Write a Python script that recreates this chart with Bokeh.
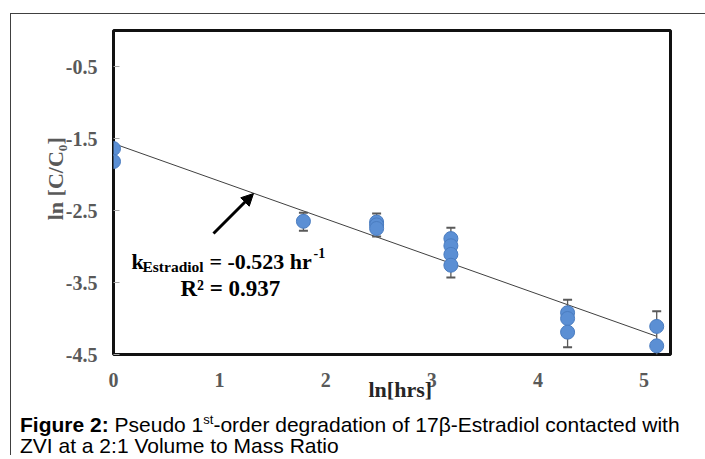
from bokeh.plotting import figure
from bokeh.models import Label, Arrow, NormalHead, FixedTicker, Div
from bokeh.layouts import column
from bokeh.embed import file_html
from bokeh.resources import INLINE

# ---- data ----
x_hours_ln = [0, 0, 1.79, 2.48, 2.48, 2.48, 3.18, 3.18, 3.18, 3.18, 4.28, 4.28, 4.28, 5.12, 5.12]
y_lnC = [-1.64, -1.82, -2.65, -2.66, -2.70, -2.75, -2.89, -2.99, -3.11, -3.26, -3.92, -4.00, -4.19, -4.11, -4.38]
err_x = [1.79, 2.48, 3.18, 4.28, 5.12]
err_hi = [-2.53, -2.54, -2.74, -3.74, -3.90]
err_lo = [-2.78, -2.86, -3.43, -4.40, -4.60]
fit_slope = -0.523
fit_intercept = -1.57
fit_x = [0, 5.12]
x_ticks = [0, 1, 2, 3, 4, 5]
y_ticks = [-4.5, -3.5, -2.5, -1.5, -0.5]
y_tick_labels = ["-4.5", "-3.5", "-2.5", "-1.5", "-0.5"]

# figure placed at page (11, 14) inside a bordered column
OX, OY = 11, 14
W, H = 694, 395
FL, FR, FT, FB = 102, 35, 16, 55
XMIN, XMAX, YMIN, YMAX = 0, 5.25, -4.5, 0

p = figure(width=W, height=H, output_backend="svg", toolbar_location=None,
           x_range=(XMIN, XMAX), y_range=(YMIN, YMAX),
           min_border_left=FL, min_border_right=FR, min_border_top=FT, min_border_bottom=FB)
p.grid.visible = False
p.background_fill_color = "white"
p.outline_line_color = "#111111"
p.outline_line_width = 3

fw = W - FL - FR
fh = H - FT - FB

def X(px):  # page px -> data x
    return XMIN + (px - OX - FL) * (XMAX - XMIN) / fw

def Y(py):  # page px -> data y
    return YMAX - (py - OY - FT) * (YMAX - YMIN) / fh

serif = "Liberation Serif"
sans = "Liberation Sans"

for ax in (p.xaxis[0], p.yaxis[0]):
    ax.axis_line_color = None
    ax.minor_tick_line_color = None
    ax.major_label_text_font = serif
    ax.major_label_text_font_style = "bold"
    ax.major_label_text_font_size = "20px"
    ax.major_label_text_color = "#595959"
    ax.axis_label_text_font = serif
    ax.axis_label_text_font_style = "bold"
    ax.axis_label_text_font_size = "22px"

p.xaxis.ticker = FixedTicker(ticks=x_ticks)
p.yaxis.ticker = FixedTicker(ticks=y_ticks)
p.yaxis.major_label_overrides = dict(zip(y_ticks, y_tick_labels))
p.xaxis.major_tick_line_color = None
p.xaxis.major_label_standoff = 12
p.yaxis.major_tick_in = 6
p.yaxis.major_tick_out = 0
p.yaxis.major_tick_line_color = "#a6a6a6"
p.yaxis.major_label_standoff = 16

p.xaxis.axis_label = "\u00a0\u00a0\u00a0ln[hrs]"
p.xaxis.axis_label_text_color = "#262626"
p.xaxis.axis_label_standoff = -13
p.yaxis.axis_label = "\u00a0\u00a0\u00a0\u00a0\u00a0ln [C/C\u2080]"
p.yaxis.axis_label_text_color = "#595959"
p.yaxis.axis_label_standoff = -5

# fit line
fit_y = [fit_intercept + fit_slope * v for v in fit_x]
p.line(fit_x, fit_y, line_color="#404040", line_width=1)

# error bars
p.segment(x0=err_x, y0=err_lo, x1=err_x, y1=err_hi, line_color="#595959", line_width=1.3)
p.scatter(err_x, err_hi, marker="dash", size=9, line_color="#595959", line_width=2)
p.scatter(err_x, err_lo, marker="dash", size=9, line_color="#595959", line_width=2)

# points
p.scatter(x_hours_ln, y_lnC, size=14, fill_color="#5b8fd4", line_color="#4a7cc0", line_width=1)

# arrow
p.add_layout(Arrow(x_start=X(213), y_start=Y(233), x_end=X(253), y_end=Y(193),
                   line_color="black", line_width=3,
                   end=NormalHead(size=12, fill_color="black", line_color="black")))

def lab(text, px, py, size, font=serif, style="bold", color="black", align="left"):
    p.add_layout(Label(x=X(px), y=Y(py), text=text, text_font=font, text_font_style=style,
                       text_font_size=size, text_color=color, text_align=align,
                       text_baseline="alphabetic"))

# annotation
lab("k", 131, 261, "22px")
lab("Estradiol", 142, 266, "15.5px")
lab("= -0.523 hr", 209, 261, "22px")
lab("-1", 313, 252, "14px")
lab("R\u00b2 = 0.937", 180, 288, "23px")

caption = Div(
    text=("<b>Figure 2:</b> Pseudo 1<sup style='font-size:13px'>st</sup>-order degradation of "
          "17\u03b2-Estradiol contacted with<br>ZVI at a 2:1 Volume to Mass Ratio"),
    width=W - 10, height=46,
    styles={"font-family": sans, "font-size": "21px", "line-height": "21px",
            "color": "black", "padding-left": "9px", "margin": "0px"},
)

layout = column(p, caption, spacing=0,
                styles={"margin-left": f"{OX - 1}px", "margin-top": f"{OY - 1}px",
                        "border-left": "1px solid #404040", "border-top": "1px solid #404040"})

open("out.html", "w").write(file_html(layout, INLINE))
